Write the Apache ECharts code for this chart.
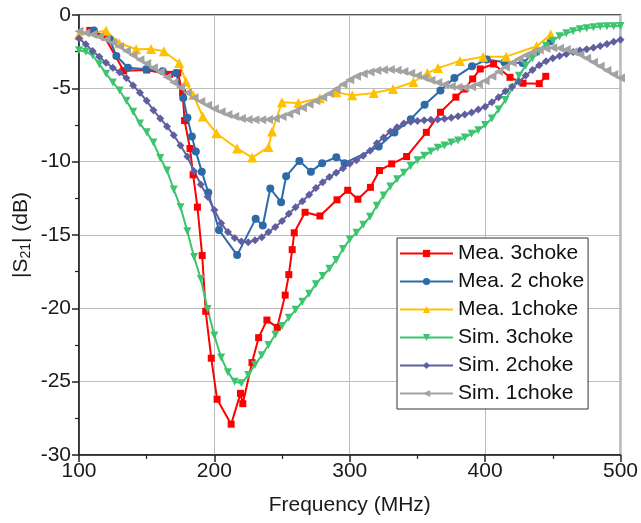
<!DOCTYPE html>
<html>
<head>
<meta charset="utf-8">
<script src="https://cdn.jsdelivr.net/npm/echarts@6/dist/echarts.min.js"></script>
<style>html,body{margin:0;padding:0;background:#fff}#c{width:641px;height:523px}</style>
</head>
<body>
<div id="c"></div>
<script>
// ---- Data ----
const mea3Freq = [108,119,133,150,167,173,176.5,178,182,184.3,187.5,191,193.6,197.7,202,212.4,219.3,221,227.8,232.7,238.8,246.4,252.3,255,257.5,259,267,278,290.6,298.5,306,315.3,322,331,342,356.6,367,378.4,384.7,390.8,396.4,406.2,418.4,428,440,444.8];
const mea3Val  = [-1.05,-1.5,-3.8,-3.75,-4.05,-3.95,-5.3,-7.2,-9.1,-10.9,-13.1,-16.4,-20.2,-23.4,-26.2,-27.9,-25.8,-26.5,-23.7,-22.0,-20.8,-21.3,-19.1,-17.7,-16.0,-14.85,-13.45,-13.7,-12.6,-11.95,-12.56,-11.75,-10.6,-10.15,-9.65,-8.0,-6.63,-5.6,-5.05,-4.36,-3.68,-3.34,-4.25,-4.65,-4.68,-4.18];

const mea2Freq = [111,122.7,127.6,136.2,149.6,161.8,171.6,177,180.1,183.4,186.3,190.7,195.5,203.4,216.8,230.5,235.8,241.3,249.3,253,262.8,271.3,279.6,290.1,296.2,321.4,333,345.1,355.3,367,377.3,390.3,401.3,414.3,427.7,437.5,448.5];
const mea2Val  = [-1.05,-1.67,-2.8,-3.6,-3.7,-3.84,-3.95,-5.66,-7.0,-8.28,-9.3,-10.68,-12.1,-14.66,-16.37,-13.9,-14.35,-11.83,-12.77,-11.0,-9.95,-10.68,-10.1,-9.7,-10.1,-8.97,-8.01,-7.1,-6.12,-5.14,-4.29,-3.5,-3.04,-3.22,-3.27,-2.52,-1.79];

const mea1Freq = [100,120,129.7,142.2,153.2,162.7,174,179,184.3,191.5,201.5,216.8,228,240,242.6,249.9,262,277.9,290.1,301.9,317.8,332,347,357.3,365.2,381.4,398.5,415.5,438,448.5];
const mea1Val  = [-1.35,-1.08,-1.93,-2.33,-2.31,-2.47,-3.27,-4.55,-5.45,-6.92,-8.06,-9.1,-9.72,-9.0,-7.94,-5.95,-6.0,-5.67,-5.26,-5.48,-5.32,-5.05,-4.57,-3.96,-3.62,-3.13,-2.84,-2.84,-2.13,-1.33];

const simFreq = [100,105,110,115,120,125,130,135,140,145,150,155,160,165,170,175,180,185,190,195,200,205,210,215,220,225,230,235,240,245,250,255,260,265,270,275,280,285,290,295,300,305,310,315,320,325,330,335,340,345,350,355,360,365,370,375,380,385,390,395,400,405,410,415,420,425,430,435,440,445,450,455,460,465,470,475,480,485,490,495,500];

const sim3Val = [-2.40,-2.50,-2.75,-3.35,-4.00,-4.60,-5.15,-5.85,-6.60,-7.40,-8.00,-8.70,-9.75,-10.60,-11.90,-13.10,-14.75,-16.50,-18.00,-20.05,-21.85,-23.35,-24.35,-25.00,-25.10,-24.55,-23.85,-23.20,-22.50,-21.80,-21.20,-20.65,-20.10,-19.55,-19.00,-18.35,-17.80,-17.30,-16.70,-15.95,-15.30,-14.85,-14.30,-13.75,-13.00,-12.30,-11.70,-11.20,-10.75,-10.30,-9.90,-9.60,-9.30,-9.05,-8.90,-8.70,-8.55,-8.35,-8.10,-7.85,-7.50,-7.05,-6.45,-5.80,-5.00,-4.15,-3.45,-2.95,-2.50,-2.10,-1.75,-1.45,-1.25,-1.10,-0.98,-0.90,-0.83,-0.79,-0.77,-0.76,-0.75];

const sim2Val = [-1.60,-2.00,-2.45,-2.85,-3.25,-3.60,-3.90,-4.30,-4.80,-5.30,-5.85,-6.50,-7.05,-7.60,-8.20,-8.90,-9.65,-10.65,-11.55,-12.40,-13.30,-14.20,-14.80,-15.20,-15.45,-15.50,-15.35,-15.15,-14.80,-14.45,-14.05,-13.55,-13.10,-12.70,-12.25,-11.80,-11.40,-11.05,-10.75,-10.45,-10.15,-9.90,-9.60,-9.25,-8.75,-8.35,-7.95,-7.65,-7.40,-7.28,-7.22,-7.17,-7.14,-7.12,-7.07,-7.01,-6.90,-6.78,-6.65,-6.45,-6.25,-5.95,-5.60,-5.20,-4.90,-4.55,-4.12,-3.75,-3.42,-3.15,-2.95,-2.80,-2.66,-2.52,-2.42,-2.33,-2.24,-2.12,-1.98,-1.82,-1.68];

const sim1Val = [-1.10,-1.22,-1.33,-1.48,-1.65,-1.88,-2.15,-2.45,-2.75,-3.05,-3.30,-3.60,-3.88,-4.25,-4.60,-4.95,-5.30,-5.65,-5.90,-6.15,-6.40,-6.60,-6.78,-6.92,-7.05,-7.12,-7.15,-7.15,-7.12,-7.05,-6.92,-6.75,-6.55,-6.32,-6.08,-5.85,-5.60,-5.35,-5.05,-4.72,-4.42,-4.18,-4.00,-3.88,-3.78,-3.73,-3.72,-3.76,-3.86,-3.98,-4.12,-4.28,-4.45,-4.60,-4.74,-4.85,-4.93,-4.96,-4.90,-4.72,-4.48,-4.18,-3.86,-3.55,-3.25,-2.98,-2.74,-2.54,-2.38,-2.28,-2.24,-2.26,-2.35,-2.50,-2.70,-2.95,-3.22,-3.50,-3.78,-4.05,-4.30];

const seriesNames = ['Mea. 3choke','Mea. 2 choke','Mea. 1choke','Sim. 3choke','Sim. 2choke','Sim. 1choke'];
const xTicks = [100,200,300,400,500];
const yTicks = [0,-5,-10,-15,-20,-25,-30];

// ---- Chart ----
const FONT = "'Liberation Sans', Arial, sans-serif";
const zip = (a,b) => a.map((v,i)=>[v,b[i]]);

function mk(name, data, color, symbol, size, rotate){
  return {
    name, type:'line', data, symbol, symbolSize:size, symbolRotate:rotate||0,
    showAllSymbol:true,
    lineStyle:{color, width:2},
    itemStyle:{color, borderWidth:0},
    emphasis:{disabled:true},
    animation:false
  };
}

const chart = echarts.init(document.getElementById('c'), null, {renderer:'canvas'});
chart.setOption({
  backgroundColor:'#fff',
  animation:false,
  grid:{left:79, right:17, top:15, bottom:68, show:true, borderColor:'#222', borderWidth:1.5, backgroundColor:'transparent'},
  xAxis:{
    type:'value', min:xTicks[0], max:xTicks[xTicks.length-1], interval:100,
    name:'Frequency (MHz)', nameLocation:'middle', nameGap:40, nameMoveOverlap:false,
    nameTextStyle:{fontFamily:FONT, fontSize:21, color:'#1a1a1a'},
    axisLine:{show:true, onZero:false, lineStyle:{color:'#222', width:1.5}},
    axisTick:{show:true, length:7, lineStyle:{color:'#222', width:1.5}},
    minorTick:{show:true, splitNumber:2, length:4, lineStyle:{color:'#222', width:1.2}},
    axisLabel:{fontFamily:FONT, fontSize:21, color:'#1a1a1a', margin:6},
    splitLine:{show:true, lineStyle:{color:'#BDBDBD', width:1}}
  },
  yAxis:{
    type:'value', min:yTicks[yTicks.length-1], max:yTicks[0], interval:5,
    name:'|S{sub|21}| (dB)', nameLocation:'middle', nameGap:46, nameMoveOverlap:false,
    nameTextStyle:{fontFamily:FONT, fontSize:21, color:'#1a1a1a',
      rich:{sub:{fontFamily:FONT, fontSize:14, color:'#1a1a1a', verticalAlign:'bottom', padding:[10,0,0,0]}}},
    axisLine:{show:true, onZero:false, lineStyle:{color:'#222', width:1.5}},
    axisTick:{show:true, length:7, lineStyle:{color:'#222', width:1.5}},
    minorTick:{show:true, splitNumber:2, length:4, lineStyle:{color:'#222', width:1.2}},
    axisLabel:{fontFamily:FONT, fontSize:21, color:'#1a1a1a', margin:8},
    splitLine:{show:true, lineStyle:{color:'#BDBDBD', width:1}}
  },
  legend:{
    orient:'vertical', left:397, top:238,
    backgroundColor:'#fff', borderColor:'#333', borderWidth:1,
    padding:[5,4,5,2], itemGap:7, itemWidth:53, itemHeight:9,
    textStyle:{fontFamily:FONT, fontSize:21, color:'#111', lineHeight:21},
    data:seriesNames
  },
  series:[
    mk(seriesNames[0], zip(mea3Freq, mea3Val), '#FF0000', 'rect', 7),
    mk(seriesNames[1], zip(mea2Freq, mea2Val), '#2E6AA8', 'circle', 8),
    mk(seriesNames[2], zip(mea1Freq, mea1Val), '#FFC000', 'triangle', 10),
    mk(seriesNames[3], zip(simFreq, sim3Val), '#3CC46E', 'triangle', 8, 180),
    mk(seriesNames[4], zip(simFreq, sim2Val), '#5F5FA0', 'diamond', 8),
    mk(seriesNames[5], zip(simFreq, sim1Val), '#A3A3A3', 'triangle', 9, 90)
  ]
});
</script>
</body>
</html>
